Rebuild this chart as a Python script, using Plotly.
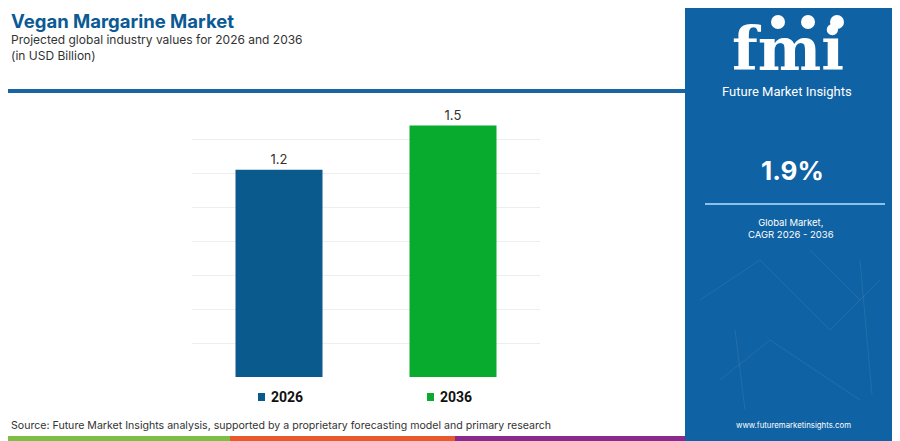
import plotly.graph_objects as go

# chart values
years = ["2026", "2036"]
market_value = [1.22, 1.48]  # USD Billion
bar_colors = ["#0b5a8e", "#08ab2e"]
cagr_text = "1.9%"

title = "Vegan Margarine Market"
subtitle = "Projected global industry values for 2026 and 2036"
unit_note = "(in USD Billion)"
source = "Source: Future Market Insights analysis, supported by a proprietary forecasting model and primary research"

panel_blue = "#0f62a3"
font_main = "Inter"

# the page puts the figure 8px in from the top-left corner,
# so the figure is 892x433 and everything below is given in page pixels
OFF = 8
W, H = 900 - OFF, 441 - OFF
ML, MR, MT, MB = 192 - OFF, 900 - 540, 105 - OFF, 441 - 377
PW, PH = W - ML - MR, H - MT - MB


def px_x(p):
    return (p - OFF - ML) / PW


def px_y(p):
    return (H - MB - (p - OFF)) / PH


fig = go.Figure()

for yr, val, col in zip(years, market_value, bar_colors):
    fig.add_trace(go.Bar(
        x=[yr], y=[val], name=yr,
        marker=dict(color=col, line=dict(width=0)),
        text=[f"{val:.1f}"], textposition="outside",
        textfont=dict(family=font_main, size=13, color="#333333"),
        cliponaxis=False, width=0.5,
        hoverinfo="skip",
    ))

fig.update_layout(
    width=W, height=H, autosize=False,
    margin=dict(l=ML, r=MR, t=MT, b=MB),
    paper_bgcolor="white", plot_bgcolor="white",
    barmode="overlay",
    showlegend=False,
    xaxis=dict(showticklabels=False, showgrid=False, zeroline=False,
               showline=False, ticks=""),
    yaxis=dict(range=[0, 1.601], dtick=0.2, showticklabels=False,
               showgrid=True, gridcolor="#eeeeee", gridwidth=1,
               zeroline=False, showline=False, ticks=""),
)

shapes = []
# right panel
shapes.append(dict(type="rect", xref="paper", yref="paper",
                   x0=px_x(685), x1=px_x(900), y0=px_y(441), y1=px_y(OFF),
                   fillcolor=panel_blue, line=dict(width=0), layer="below"))
# faint network lines in the panel
for (xa, ya, xb, yb) in [(700, 300, 760, 260), (760, 260, 830, 330), (830, 330, 880, 280),
                         (720, 380, 770, 340), (770, 340, 860, 400), (810, 250, 860, 300),
                         (735, 330, 745, 410), (860, 260, 872, 395)]:
    shapes.append(dict(type="line", xref="paper", yref="paper",
                       x0=px_x(xa), x1=px_x(xb), y0=px_y(ya), y1=px_y(yb),
                       line=dict(color="rgba(255,255,255,0.08)", width=1)))
# header rule
shapes.append(dict(type="line", xref="paper", yref="paper",
                   x0=px_x(OFF), x1=px_x(685), y0=px_y(91), y1=px_y(91),
                   line=dict(color="#1a64a3", width=4)))
# bottom colour strip
for x0, x1, c in [(OFF, 230, "#7cbf45"), (230, 455, "#e8592b"), (455, 685, "#8a2a8c")]:
    shapes.append(dict(type="rect", xref="paper", yref="paper",
                       x0=px_x(x0), x1=px_x(x1), y0=px_y(441), y1=px_y(436),
                       fillcolor=c, line=dict(width=0)))
# panel divider
shapes.append(dict(type="line", xref="paper", yref="paper",
                   x0=px_x(705), x1=px_x(885), y0=px_y(204), y1=px_y(204),
                   line=dict(color="#8cc2ea", width=2)))
# little globes of the logo
for cx in [778, 808, 837]:
    shapes.append(dict(type="circle", xref="paper", yref="paper",
                       x0=px_x(cx - 7), x1=px_x(cx + 7), y0=px_y(29), y1=px_y(15),
                       fillcolor="white", line=dict(width=0)))
# legend squares
for lx, col in zip([258, 427], bar_colors):
    shapes.append(dict(type="rect", xref="paper", yref="paper",
                       x0=px_x(lx), x1=px_x(lx + 7), y0=px_y(401), y1=px_y(393),
                       fillcolor=col, line=dict(width=0)))
fig.update_layout(shapes=shapes)

ann = []
ann.append(dict(text=f"<b>{title}</b>", x=px_x(9), y=px_y(21), xanchor="left", yanchor="middle",
                font=dict(family=font_main, size=18.5, color="#0b5a93")))
ann.append(dict(text=subtitle, x=px_x(9), y=px_y(40), xanchor="left", yanchor="middle",
                font=dict(family=font_main, size=12, color="#333333")))
ann.append(dict(text=unit_note, x=px_x(9), y=px_y(55), xanchor="left", yanchor="middle",
                font=dict(family=font_main, size=12, color="#333333")))
ann.append(dict(text=source, x=px_x(9), y=px_y(425), xanchor="left", yanchor="middle",
                font=dict(family=font_main, size=10.6, color="#333333")))
# legend labels
for lx, yr in zip([269, 438], years):
    ann.append(dict(text=f"<b>{yr}</b>", x=px_x(lx), y=px_y(397), xanchor="left", yanchor="middle",
                    font=dict(family="Roboto", size=14, color="#111111")))
# panel texts
ann.append(dict(text="<b>fmi</b>", x=px_x(788), y=px_y(49), xanchor="center", yanchor="middle",
                font=dict(family="DejaVu Serif", size=60, color="white")))
ann.append(dict(text="Future Market Insights", x=px_x(787), y=px_y(92), xanchor="center", yanchor="middle",
                font=dict(family="Roboto", size=13, color="white")))
ann.append(dict(text=f"<b>{cagr_text}</b>", x=px_x(792), y=px_y(170), xanchor="center", yanchor="middle",
                font=dict(family=font_main, size=26, color="white")))
ann.append(dict(text="Global Market,<br>CAGR 2026 - 2036", x=px_x(791), y=px_y(228), xanchor="center",
                yanchor="middle", align="center",
                font=dict(family=font_main, size=9.5, color="white")))
ann.append(dict(text="www.futuremarketinsights.com", x=px_x(793), y=px_y(425), xanchor="center",
                yanchor="middle", font=dict(family=font_main, size=7.8, color="white")))
for a in ann:
    a.update(xref="paper", yref="paper", showarrow=False)
fig.update_layout(annotations=ann)

fig.write_html("out.html")
